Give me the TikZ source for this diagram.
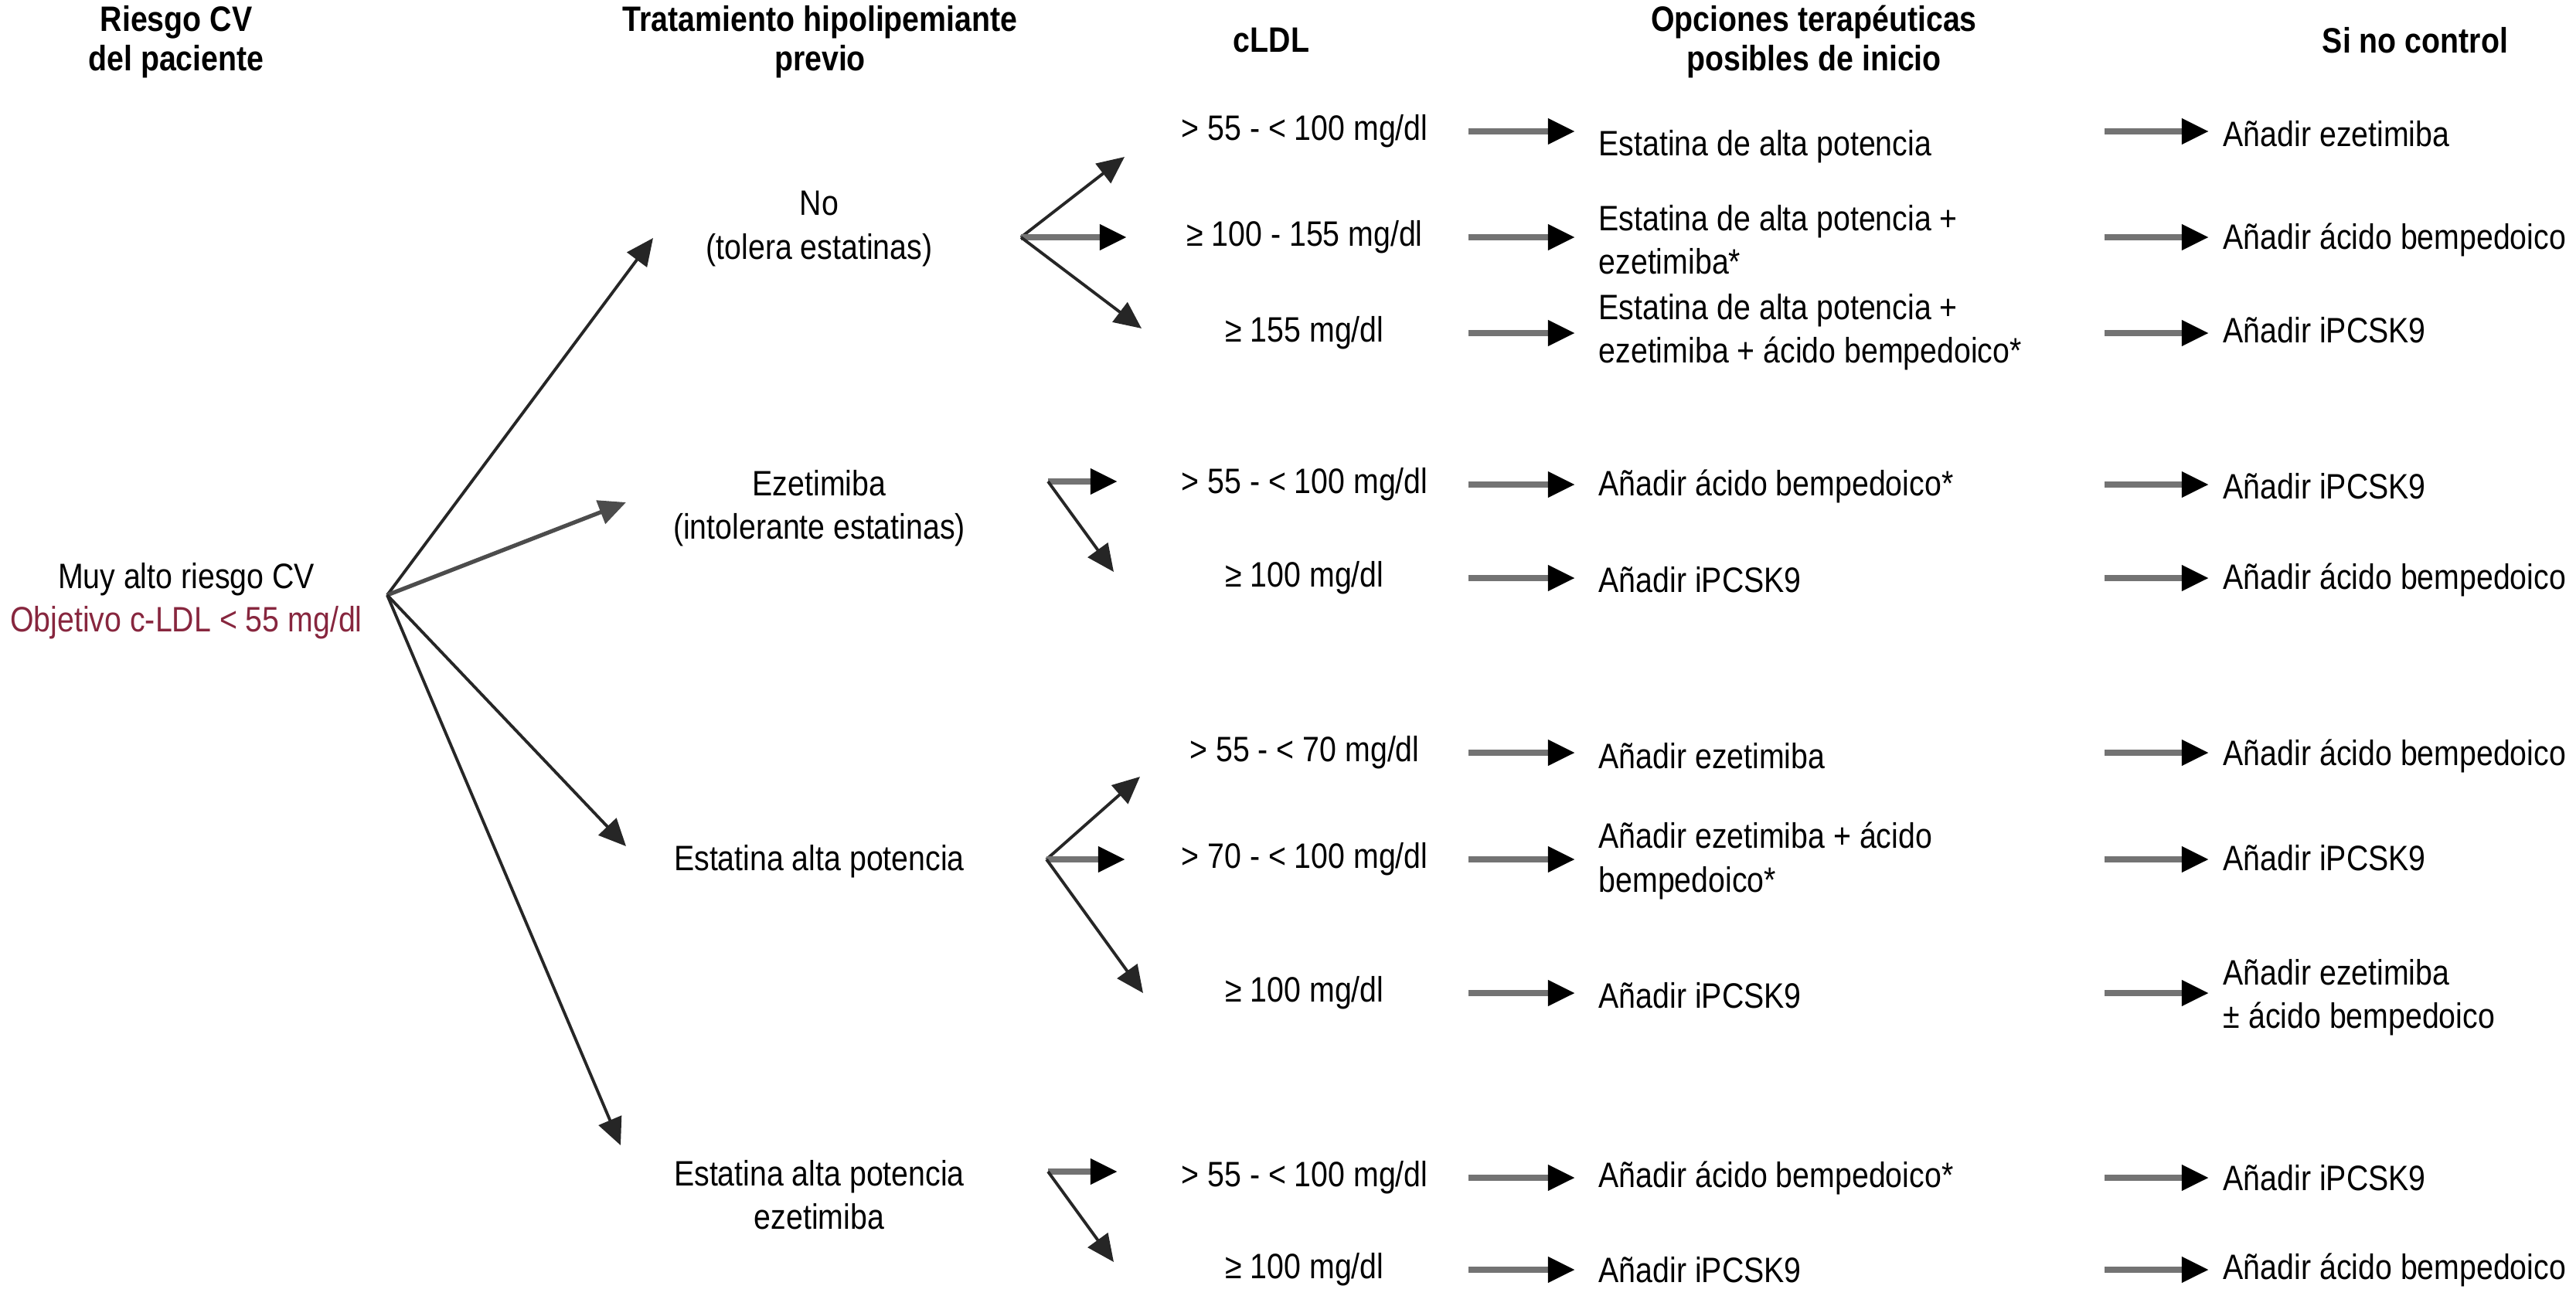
\documentclass[tikz,border=0pt]{standalone}
\usepackage{fontspec}
\setmainfont[FakeStretch=0.86]{Liberation Sans}
\usetikzlibrary{arrows.meta}
\definecolor{objred}{RGB}{135,38,62}

\begin{document}
\begin{tikzpicture}[
    every node/.style={font=\fontsize{13}{16}\selectfont, inner sep=0pt},
    head/.style={font=\fontsize{13}{14.5}\selectfont\bfseries, align=center},
    txt/.style={align=left, anchor=west},
    branch/.style={draw=black!85, line width=1.1pt, -{Triangle[length=10pt,width=9pt]}},
    flow/.style={draw=black!55, line width=2.3pt, -{Triangle[length=10pt,width=9pt,color=black]}}
  ]
  \useasboundingbox (0,0) rectangle (33.33,-16.77);

  % Column headers
  \node[head] (hRisk) at (2.28,-0.54) {Riesgo CV\\del paciente};
  \node[head] (hTrat) at (10.61,-0.54) {Tratamiento hipolipemiante\\previo};
  \node[head] (hLdl) at (16.45,-0.52) {cLDL};
  \node[head] (hOpc) at (23.47,-0.54) {Opciones terapéuticas\\posibles de inicio};
  \node[head] (hCtl) at (31.25,-0.52) {Si no control};

  % Patient risk
  \node[align=center] (root) at (2.41,-7.78) {Muy alto riesgo CV\\\textcolor{objred}{Objetivo c-LDL < 55 mg/dl}};
  \coordinate (f0) at (5.01,-7.70);

  % Previous lipid lowering treatment
  \node[align=center] (no) at (10.60,-2.96) {No\\(tolera estatinas)};
  \node[align=center] (eze) at (10.60,-6.58) {Ezetimiba\\(intolerante estatinas)};
  \node (est) at (10.60,-11.15) {Estatina alta potencia};
  \node[align=center] (esteze) at (10.60,-15.46) {Estatina alta potencia\\ezetimiba};

  \coordinate (t1) at (8.45,-3.08);
  \coordinate (t2) at (8.10,-6.50);
  \coordinate (t3) at (8.10,-10.95);
  \coordinate (t4) at (8.03,-14.82);
  \draw[branch] (f0) -- (t1);
  \draw[branch, line width=1.5pt, draw=black!70] (f0) -- (t2);
  \draw[branch] (f0) -- (t3);
  \draw[branch] (f0) -- (t4);

  % Forks towards cLDL
  \coordinate (f1) at (13.21,-3.07);
  \coordinate (f1a) at (14.55,-2.03);
  \coordinate (f1b) at (14.58,-3.07);
  \coordinate (f1c) at (14.77,-4.25);
  \draw[branch] (f1) -- (f1a);
  \draw[flow] (f1) -- (f1b);
  \draw[branch] (f1) -- (f1c);

  \coordinate (f2) at (13.56,-6.23);
  \coordinate (f2a) at (14.46,-6.23);
  \coordinate (f2b) at (14.41,-7.40);
  \draw[flow] (f2) -- (f2a);
  \draw[branch] (f2) -- (f2b);

  \coordinate (f3) at (13.54,-11.12);
  \coordinate (f3a) at (14.75,-10.05);
  \coordinate (f3b) at (14.56,-11.12);
  \coordinate (f3c) at (14.79,-12.85);
  \draw[branch] (f3) -- (f3a);
  \draw[flow] (f3) -- (f3b);
  \draw[branch] (f3) -- (f3c);

  \coordinate (f4) at (13.56,-15.16);
  \coordinate (f4a) at (14.46,-15.16);
  \coordinate (f4b) at (14.41,-16.33);
  \draw[flow] (f4) -- (f4a);
  \draw[branch] (f4) -- (f4b);

  % cLDL
  \node (l1) at (16.88,-1.70) {> 55 - < 100 mg/dl};
  \node (l2) at (16.88,-3.07) {≥ 100 - 155 mg/dl};
  \node (l3) at (16.88,-4.31) {≥ 155 mg/dl};
  \node (l4) at (16.88,-6.27) {> 55 - < 100 mg/dl};
  \node (l5) at (16.88,-7.48) {≥ 100 mg/dl};
  \node (l6) at (16.88,-9.74) {> 55 - < 70 mg/dl};
  \node (l7) at (16.88,-11.12) {> 70 - < 100 mg/dl};
  \node (l8) at (16.88,-12.85) {≥ 100 mg/dl};
  \node (l9) at (16.88,-15.24) {> 55 - < 100 mg/dl};
  \node (l10) at (16.88,-16.43) {≥ 100 mg/dl};

  % Initial options
  \node[txt] (o1) at (20.68,-1.90) {Estatina de alta potencia};
  \node[txt] (o2) at (20.68,-3.10) {Estatina de alta potencia +\\ezetimiba*};
  \node[txt] (o3) at (20.68,-4.30) {Estatina de alta potencia +\\ezetimiba + ácido bempedoico*};
  \node[txt] (o4) at (20.68,-6.29) {Añadir ácido bempedoico*};
  \node[txt] (o5) at (20.68,-7.50) {Añadir iPCSK9};
  \node[txt] (o6) at (20.68,-9.78) {Añadir ezetimiba};
  \node[txt] (o7) at (20.68,-11.14) {Añadir ezetimiba + ácido\\bempedoico*};
  \node[txt] (o8) at (20.68,-12.88) {Añadir iPCSK9};
  \node[txt] (o9) at (20.68,-15.24) {Añadir ácido bempedoico*};
  \node[txt] (o10) at (20.68,-16.43) {Añadir iPCSK9};

  % If not controlled
  \node[txt] (s1) at (28.76,-1.73) {Añadir ezetimiba};
  \node[txt] (s2) at (28.76,-3.10) {Añadir ácido bempedoico};
  \node[txt] (s3) at (28.76,-4.27) {Añadir iPCSK9};
  \node[txt] (s4) at (28.76,-6.29) {Añadir iPCSK9};
  \node[txt] (s5) at (28.76,-7.50) {Añadir ácido bempedoico};
  \node[txt] (s6) at (28.76,-9.78) {Añadir ácido bempedoico};
  \node[txt] (s7) at (28.76,-11.10) {Añadir iPCSK9};
  \node[txt] (s8) at (28.76,-12.91) {Añadir ezetimiba\\± ácido bempedoico};
  \node[txt] (s9) at (28.76,-15.24) {Añadir iPCSK9};
  \node[txt] (s10) at (28.76,-16.43) {Añadir ácido bempedoico};

  % Row arrows
  \coordinate (a1) at (19.00,0);
  \coordinate (a2) at (20.38,0);
  \coordinate (a3) at (27.23,0);
  \coordinate (a4) at (28.58,0);
  \draw[flow] (l1 -| a1) -- (l1 -| a2);
  \draw[flow] (l2 -| a1) -- (l2 -| a2);
  \draw[flow] (l3 -| a1) -- (l3 -| a2);
  \draw[flow] (l4 -| a1) -- (l4 -| a2);
  \draw[flow] (l5 -| a1) -- (l5 -| a2);
  \draw[flow] (l6 -| a1) -- (l6 -| a2);
  \draw[flow] (l7 -| a1) -- (l7 -| a2);
  \draw[flow] (l8 -| a1) -- (l8 -| a2);
  \draw[flow] (l9 -| a1) -- (l9 -| a2);
  \draw[flow] (l10 -| a1) -- (l10 -| a2);

  \draw[flow] (l1 -| a3) -- (l1 -| a4);
  \draw[flow] (l2 -| a3) -- (l2 -| a4);
  \draw[flow] (l3 -| a3) -- (l3 -| a4);
  \draw[flow] (l4 -| a3) -- (l4 -| a4);
  \draw[flow] (l5 -| a3) -- (l5 -| a4);
  \draw[flow] (l6 -| a3) -- (l6 -| a4);
  \draw[flow] (l7 -| a3) -- (l7 -| a4);
  \draw[flow] (l8 -| a3) -- (l8 -| a4);
  \draw[flow] (l9 -| a3) -- (l9 -| a4);
  \draw[flow] (l10 -| a3) -- (l10 -| a4);
\end{tikzpicture}
\end{document}
